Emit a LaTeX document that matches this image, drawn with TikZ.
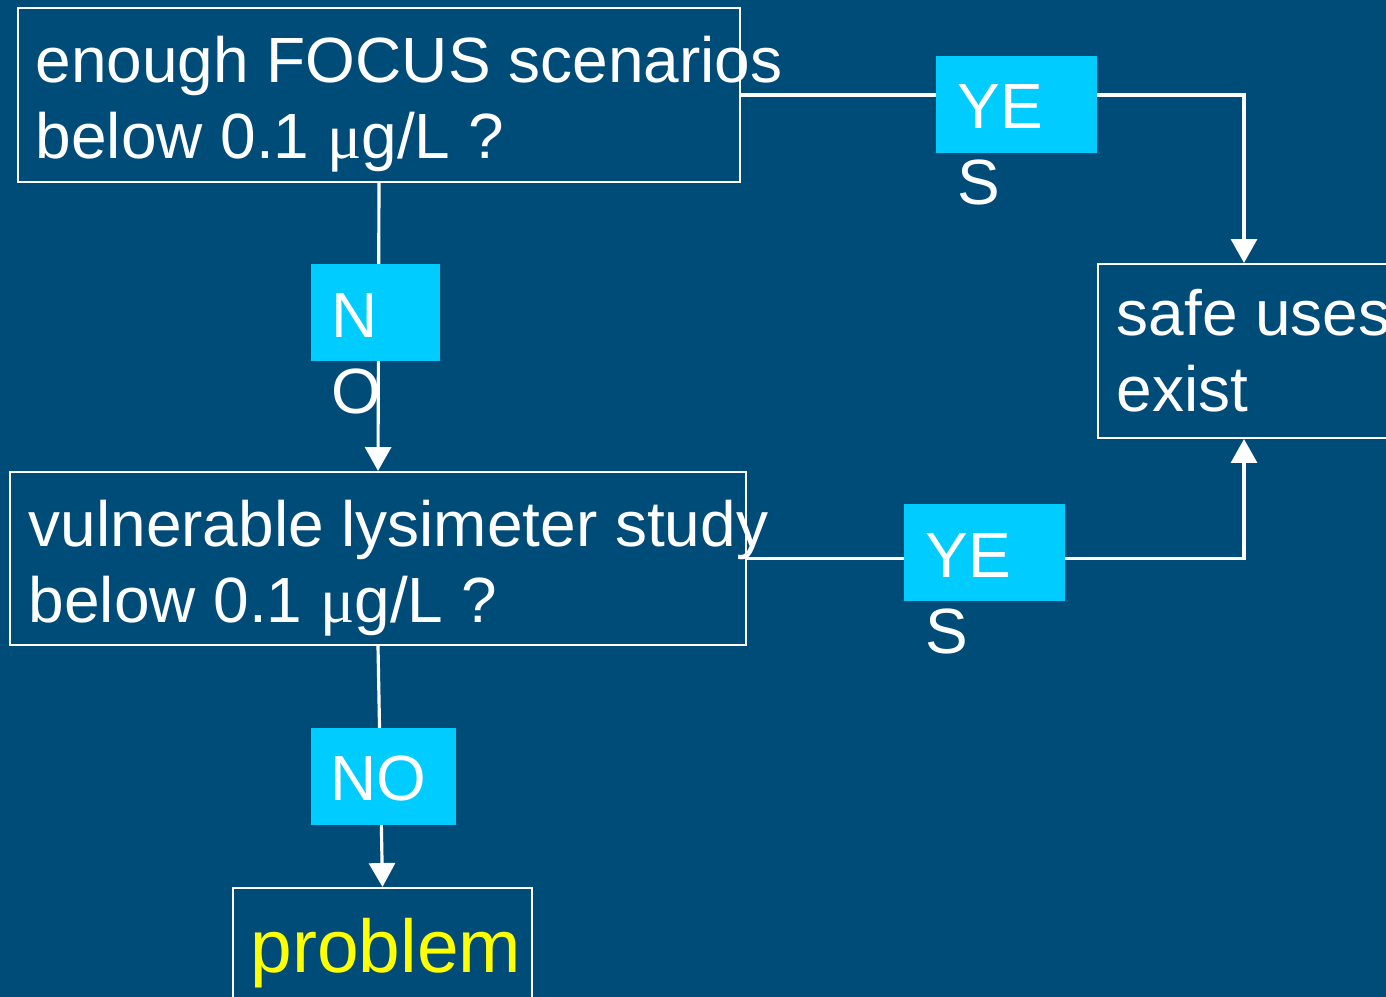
\documentclass[tikz,border=0pt]{standalone}
\usepackage{fontspec}
\setmainfont{Liberation Sans}
\newfontfamily\mufont{Liberation Serif}
\usetikzlibrary{arrows.meta}
\definecolor{slidebg}{RGB}{0,76,120}
\definecolor{tagcyan}{RGB}{0,204,255}
\definecolor{warnyellow}{RGB}{255,255,0}
\tikzset{
  qbox/.style={draw=white, line width=0.6pt, inner sep=0pt},
  qtext/.style={text=white, align=left, anchor=base west, inner sep=0pt, font=\fontsize{18.2}{21.9}\selectfont},
  tagbox/.style={fill=tagcyan, inner sep=0pt, minimum width=1.61cm, minimum height=0.97cm},
  flow/.style={draw=white, line width=0.9pt, -{Triangle[width=7.4pt,length=6.8pt]}},
}
\begin{document}
\begin{tikzpicture}
    \clip (0,0) rectangle (13.86,-9.97);
    \fill[slidebg] (0,0) rectangle (13.86,-9.97);
    % question boxes
    \node[qbox, minimum width=7.22cm, minimum height=1.74cm] (focus) at (3.79,-0.95) {};
    \node[qbox, minimum width=7.36cm, minimum height=1.73cm] (lysi) at (3.78,-5.585) {};
    \node[qbox, minimum width=2.92cm, minimum height=1.74cm] (safe) at (12.44,-3.51) {};
    \node[qbox, minimum width=2.99cm, minimum height=1.3cm] (problem) at (3.825,-9.53) {};
    % texts (base = last line)
    \node[qtext] (focust) at (0.35,-1.59) {enough FOCUS scenarios\\below 0.1 {\mufont μ}g/L ?};
    \node[qtext] (lysit) at (0.28,-6.23) {vulnerable lysimeter study\\below 0.1 {\mufont μ}g/L ?};
    \node[qtext] (safet) at (11.16,-4.12) {safe uses\\exist};
    \node[qtext, text=warnyellow, font=\fontsize{21.3}{25}\selectfont] (problemt) at (2.50,-9.72) {problem};
    % connectors
    \draw[flow] (focus.east) -| (safe.north);
    \draw[flow] (lysi.east) -| (safe.south);
    \draw[flow] (focus.south) -- (lysi.north);
    \draw[flow] (lysi.south) -- (problem.north);
    % answers
    \node[tagbox] (yesA) at (10.165,-1.045) {};
    \node[tagbox, minimum width=1.29cm] (noA) at (3.755,-3.125) {};
    \node[tagbox] (yesB) at (9.845,-5.525) {};
    \node[tagbox, minimum width=1.45cm] (noB) at (3.835,-7.765) {};
    \node[qtext] (yesAt) at (9.57,-2.05) {YE\\S};
    \node[qtext] (noAt) at (3.31,-4.14) {N\\O};
    \node[qtext] (yesBt) at (9.25,-6.54) {YE\\S};
    \node[qtext] (noBt) at (3.30,-8.01) {NO};
\end{tikzpicture}
\end{document}
